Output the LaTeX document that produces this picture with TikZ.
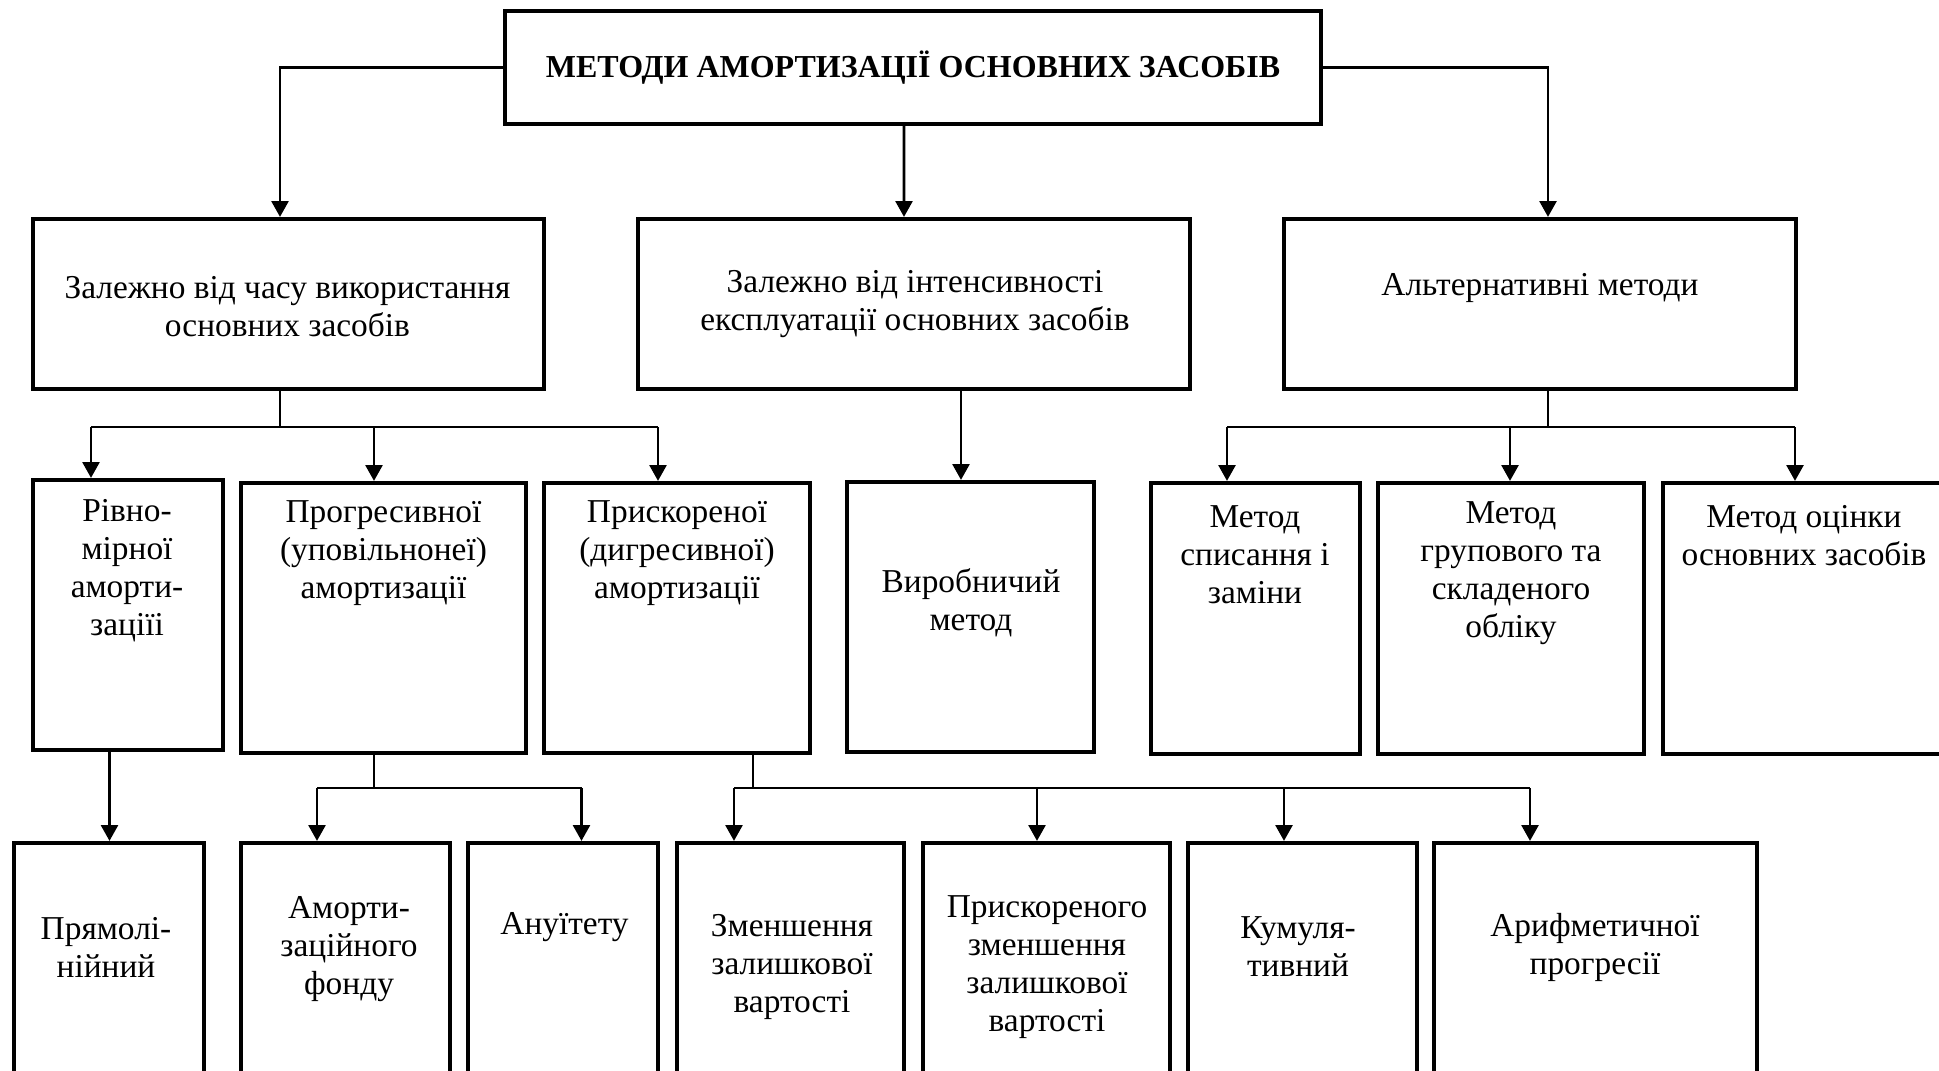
\documentclass[tikz,border=0pt]{standalone}
\usepackage{fontspec}
\setmainfont{Liberation Serif}
\usetikzlibrary{arrows.meta}
\tikzset{
  box/.style={draw, line width=1.2pt, inner sep=0pt},
  lbl/.style={align=center, font=\fontsize{9.5}{10.8}\selectfont},
  conn/.style={line width=0.8pt},
  arr/.style={line width=0.8pt, -{Triangle[length=4.5pt,width=4.8pt]}},
}

\begin{document}
\begin{tikzpicture}[x=1cm,y=-1cm]
\useasboundingbox (0,0) rectangle (19.39,10.70);

% Title
\node[box, align=center, font=\fontsize{9.1}{10.8}\selectfont\bfseries,
  minimum width=8.16cm, minimum height=1.13cm] (top) at (9.13,0.675)
  {МЕТОДИ АМОРТИЗАЦІЇ ОСНОВНИХ ЗАСОБІВ};

% First level
\node[box, minimum width=5.11cm, minimum height=1.70cm] (z1) at (2.885,3.04) {};
\node[lbl] (z1t) at (2.875,3.07) {Залежно від часу використання\\основних засобів};

\node[box, minimum width=5.52cm, minimum height=1.70cm] (z2) at (9.14,3.04) {};
\node[lbl] (z2t) at (9.15,3.04) {Залежно від інтенсивності\\експлуатації основних засобів};

\node[box, minimum width=5.12cm, minimum height=1.70cm] (z3) at (15.40,3.04) {};
\node[lbl] (z3t) at (15.40,2.88) {Альтернативні методи};

% Second level
\node[box, minimum width=1.90cm, minimum height=2.70cm] (r1) at (1.28,6.15) {};
\node[lbl] (r1t) at (1.27,5.71) {Рівно-\\мірної\\аморти-\\заціїі};

\node[box, minimum width=2.85cm, minimum height=2.70cm] (r2) at (3.835,6.18) {};
\node[lbl] (r2t) at (3.835,5.53) {Прогресивної\\(уповільнонеї)\\амортизації};

\node[box, minimum width=2.66cm, minimum height=2.70cm] (r3) at (6.77,6.18) {};
\node[lbl] (r3t) at (6.77,5.53) {Прискореної\\(дигресивної)\\амортизації};

\node[box, minimum width=2.47cm, minimum height=2.70cm] (r4) at (9.705,6.17) {};
\node[lbl] (r4t) at (9.71,6.03) {Виробничий\\метод};

\node[box, minimum width=2.09cm, minimum height=2.71cm] (r5) at (12.555,6.185) {};
\node[lbl] (r5t) at (12.55,5.55) {Метод\\списання і\\заміни};

\node[box, minimum width=2.66cm, minimum height=2.71cm] (r6) at (15.11,6.185) {};
\node[lbl] (r6t) at (15.11,5.735) {Метод\\групового та\\складеного\\обліку};

\node[box, minimum width=2.82cm, minimum height=2.71cm] (r7) at (18.04,6.185) {};
\node[lbl] (r7t) at (18.04,5.36) {Метод оцінки\\основних засобів};

% Third level
\node[box, minimum width=1.90cm, minimum height=2.45cm] (b1) at (1.09,9.655) {};
\node[lbl] (b1t) at (1.06,9.47) {Прямолі-\\нійний};

\node[box, minimum width=2.09cm, minimum height=2.45cm] (b2) at (3.455,9.655) {};
\node[lbl] (b2t) at (3.49,9.49) {Аморти-\\заційного\\фонду};

\node[box, minimum width=1.90cm, minimum height=2.45cm] (b3) at (5.63,9.655) {};
\node[lbl] (b3t) at (5.645,9.27) {Ануїтету};

\node[box, minimum width=2.27cm, minimum height=2.45cm] (b4) at (7.905,9.655) {};
\node[lbl] (b4t) at (7.92,9.67) {Зменшення\\залишкової\\вартості};

\node[box, minimum width=2.47cm, minimum height=2.45cm] (b5) at (10.465,9.655) {};
\node[lbl] (b5t) at (10.47,9.67) {Прискореного\\зменшення\\залишкової\\вартості};

\node[box, minimum width=2.29cm, minimum height=2.45cm] (b6) at (13.025,9.655) {};
\node[lbl] (b6t) at (12.98,9.47) {Кумуля-\\тивний};

\node[box, minimum width=3.23cm, minimum height=2.45cm] (b7) at (15.955,9.655) {};
\node[lbl] (b7t) at (15.95,9.47) {Арифметичної\\прогресії};

% Branch points
\coordinate (j1) at (2.80,4.27);
\coordinate (j2) at (15.48,4.27);
\coordinate (j3) at (3.74,7.88);
\coordinate (j4) at (7.53,7.88);

% Title to first level
\draw[arr] (top.west) -| ([xshift=-0.085cm]z1.north);
\draw[arr] ([xshift=-0.09cm]top.south) -- ([xshift=-0.10cm]z2.north);
\draw[arr] (top.east) -| ([xshift=0.08cm]z3.north);

% First to second level
\draw[conn] (z1.south -| j1) -- (j1);
\draw[conn] (0.91,4.27) -- (6.58,4.27);
\foreach \x/\n in {0.91/r1, 3.74/r2, 6.58/r3}
  \draw[arr] (\x,4.27) -- (\n.north -| \x,0);

\draw[arr] (z2.south -| 9.61,0) -- (r4.north -| 9.61,0);

\draw[conn] (z3.south -| j2) -- (j2);
\draw[conn] (12.27,4.27) -- (17.95,4.27);
\foreach \x/\n in {12.27/r5, 15.10/r6, 17.95/r7}
  \draw[arr] (\x,4.27) -- (\n.north -| \x,0);

% Second to third level
\draw[arr] (r1.south -| 1.095,0) -- (b1.north -| 1.095,0);

\draw[conn] (r2.south -| j3) -- (j3);
\draw[conn] (3.17,7.88) -- (5.815,7.88);
\foreach \x/\n in {3.17/b2, 5.815/b3}
  \draw[arr] (\x,7.88) -- (\n.north -| \x,0);

\draw[conn] (r3.south -| j4) -- (j4);
\draw[conn] (7.34,7.88) -- (15.30,7.88);
\foreach \x/\n in {7.34/b4, 10.37/b5, 12.84/b6, 15.30/b7}
  \draw[arr] (\x,7.88) -- (\n.north -| \x,0);
\end{tikzpicture}
\end{document}
